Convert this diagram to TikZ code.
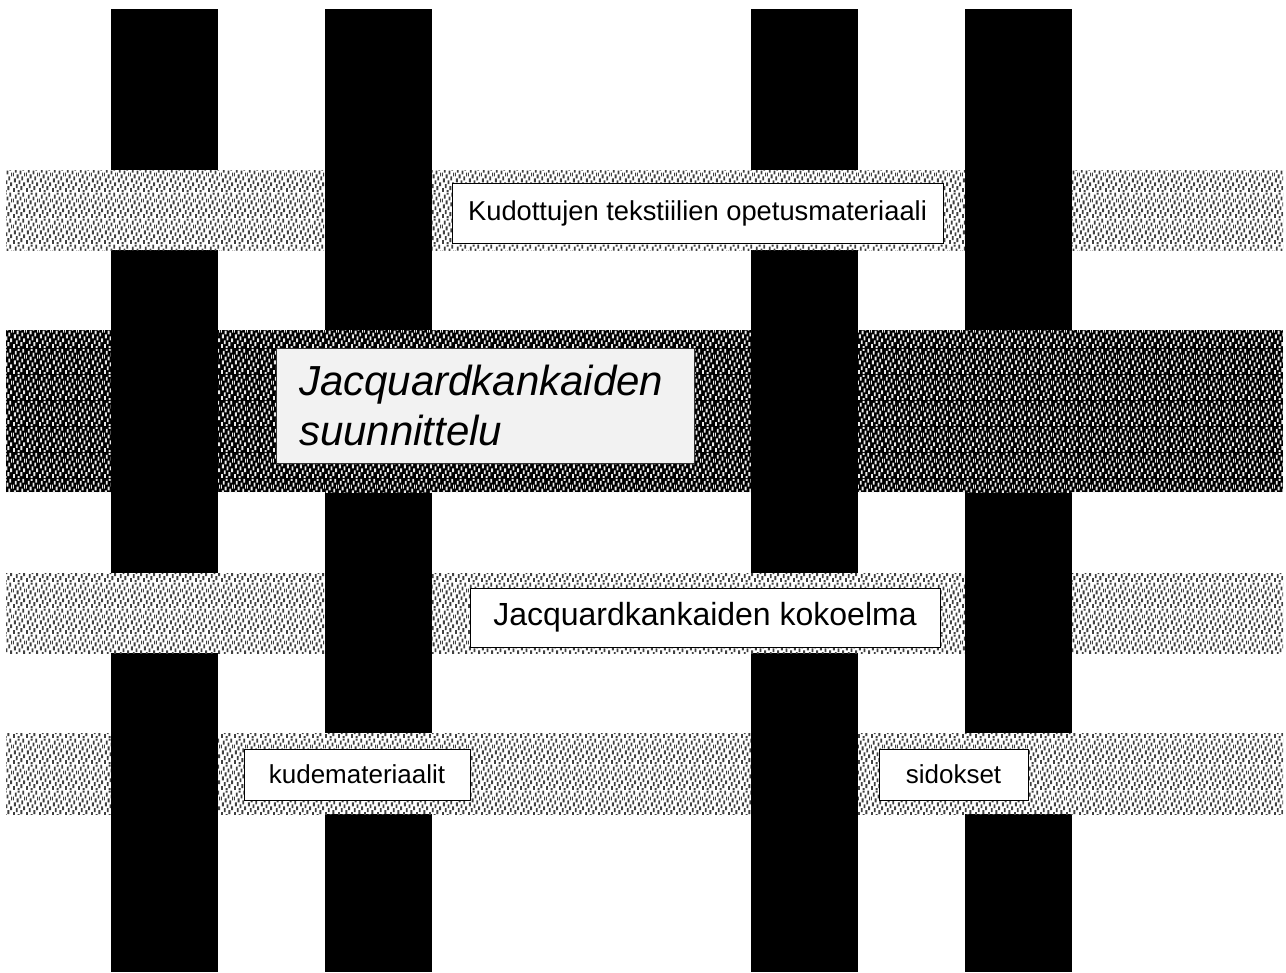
\documentclass[tikz,border=0pt]{standalone}
\usepackage{fontspec}
\setmainfont{Liberation Sans}
\usepackage{tikz}
\usetikzlibrary{patterns}

% small slanted dashes, like the weft floats of a twill (tile 13px x 26px, 1px = .75pt)
\pgfdeclarepatternformonly{twill}{\pgfpointorigin}{\pgfpoint{9.75pt}{19.5pt}}{\pgfpoint{9.75pt}{19.5pt}}{%
  \foreach \px/\py in {0/0,10/22,2/20,7/18,4/14,9/12,1/10,6/8,11/6,3/4,8/2}
    {\pgfpathrectangle{\pgfpoint{\px*.75pt}{\py*.75pt}}{\pgfpoint{1.5pt}{3pt}}}%
  % the two dashes that cross the tile edge
  \pgfpathrectangle{\pgfpoint{3.75pt}{18pt}}{\pgfpoint{1.5pt}{1.5pt}}%
  \pgfpathrectangle{\pgfpoint{3.75pt}{0pt}}{\pgfpoint{1.5pt}{1.5pt}}%
  \pgfpathrectangle{\pgfpoint{9pt}{12pt}}{\pgfpoint{.75pt}{3pt}}%
  \pgfpathrectangle{\pgfpoint{0pt}{12pt}}{\pgfpoint{.75pt}{3pt}}%
  \pgfusepath{fill}}

\begin{document}
\begin{tikzpicture}[x=.75pt,y=-.75pt,
  lightweft/.style={preaction={fill=white},pattern=twill,pattern color=black!75},
  darkweft/.style={preaction={fill=black},pattern=twill,pattern color=black!8},
  tag/.style={draw=black,line width=.75pt,fill=white,inner sep=0pt,font=\fontsize{19.5}{23}\selectfont}]
  \useasboundingbox[fill=white] (0,0) rectangle (1286,972);
  % warp threads
  \foreach \x in {111,325,751,965} {\fill (\x,9) rectangle ++(107,963);}
  % weft threads
  \foreach \y/\h in {170/80,573/80,733/81} {\path[lightweft] (6,\y) rectangle ++(1277,\h);}
  \path[darkweft] (6,330) rectangle ++(1277,162);
  % warp over weft
  \foreach \y/\h/\a/\b in {170/80/325/965,330/162/111/751,573/80/325/965,733/81/111/751}
    {\fill (\a,\y-1) rectangle ++(107,\h+2); \fill (\b,\y-1) rectangle ++(107,\h+2);}
  \node[tag,minimum width=368.25pt,minimum height=45pt,font=\fontsize{20.5}{24}\selectfont] (material) at (697.5,213) {Kudottujen tekstiilien opetusmateriaali};
  \node[tag,fill=black!5,draw=black!80,minimum width=313.5pt,minimum height=86.25pt,
        text width=279pt,align=left,inner xsep=17.25pt,font=\fontsize{31.5}{37.5}\selectfont\itshape]
        (design) at (485,405.5) {Jacquardkankaiden\\suunnittelu};
  \node[tag,minimum width=352.5pt,minimum height=44.25pt,font=\fontsize{24}{28}\selectfont] (collection) at (705,617.5) {Jacquardkankaiden kokoelma};
  \node[tag,minimum width=169.5pt,minimum height=38.25pt] (yarns) at (357,774.5) {kudemateriaalit};
  \node[tag,minimum width=111.75pt,minimum height=38.25pt] (weaves) at (953.5,774.5) {sidokset};
\end{tikzpicture}
\end{document}
